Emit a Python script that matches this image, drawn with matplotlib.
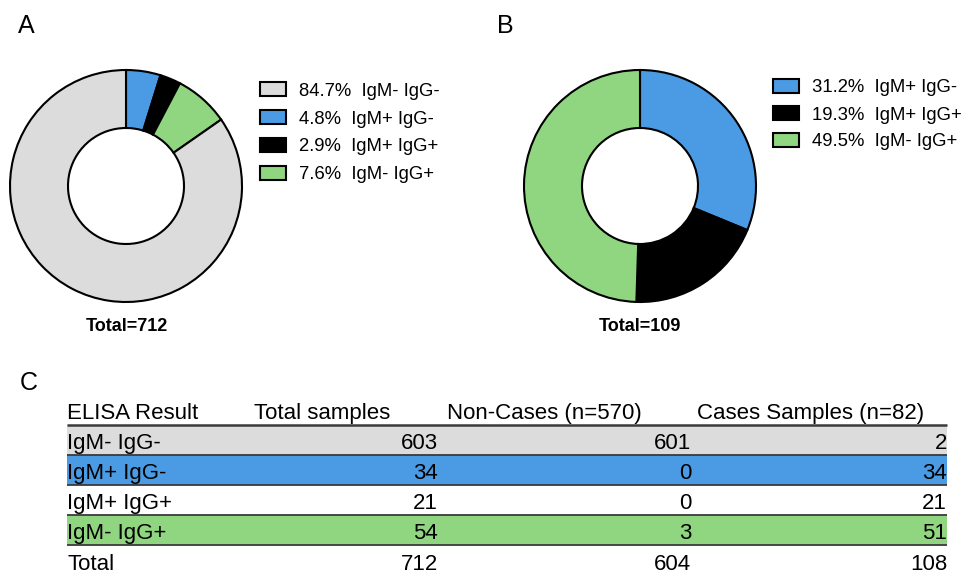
import matplotlib
matplotlib.use("Agg")
import matplotlib.pyplot as plt
from matplotlib.patches import Rectangle

plt.rcParams['font.family'] = ['Liberation Sans', 'DejaVu Sans']

# Panel A: all samples
labels_a = ["IgM- IgG-", "IgM+ IgG-", "IgM+ IgG+", "IgM- IgG+"]
pct_a = [84.7, 4.8, 2.9, 7.6]
total_a = 712

# Panel B: positive samples only
labels_b = ["IgM+ IgG-", "IgM+ IgG+", "IgM- IgG+"]
pct_b = [31.2, 19.3, 49.5]
total_b = 109

# Panel C: table
table_header = ["ELISA Result", "Total samples", "Non-Cases (n=570)", "Cases Samples (n=82)"]
row_labels = ["IgM- IgG-", "IgM+ IgG-", "IgM+ IgG+", "IgM- IgG+", "Total"]
total_samples = [603, 34, 21, 54, 712]
non_cases = [601, 0, 0, 3, 604]
cases = [2, 34, 21, 51, 108]

COLORS = {"IgM- IgG-": "#DCDCDC", "IgM+ IgG-": "#4A9BE3",
          "IgM+ IgG+": "#000000", "IgM- IgG+": "#90D580"}
ROW_COLORS = {"IgM- IgG-": "#DCDCDC", "IgM+ IgG-": "#4A9BE3",
              "IgM+ IgG+": "#FFFFFF", "IgM- IgG+": "#90D580", "Total": "#FFFFFF"}

W, H = 963, 575
fig = plt.figure(figsize=(W / 100, H / 100), dpi=100)


def fx(x):
    return x / W


def fy(y):
    return 1 - y / H


def donut(cx, cy, r, labels, pct, order):
    ax = fig.add_axes([fx(cx - r), fy(cy + r), 2 * r / W, 2 * r / H])
    vals = [pct[i] for i in order]
    cols = [COLORS[labels[i]] for i in order]
    ax.pie(vals, colors=cols, startangle=90, counterclock=False,
           wedgeprops=dict(width=0.5, edgecolor="black", linewidth=1.5, clip_on=False))
    ax.set_xlim(-1, 1)
    ax.set_ylim(-1, 1)
    ax.set_aspect("equal")
    ax.axis("off")
    return ax


def legend(x, y0, step, labels, pct):
    for i, (lab, p) in enumerate(zip(labels, pct)):
        yc = y0 + i * step
        fig.add_artist(Rectangle((fx(x), fy(yc + 7)), 26 / W, 14 / H,
                                 transform=fig.transFigure, facecolor=COLORS[lab],
                                 edgecolor="black", linewidth=1.5))
        fig.text(fx(x + 39), fy(yc + 6.5), f"{p}%  {lab}", fontsize=13.3,
                 ha="left", va="baseline")


# A
donut(126, 186, 116, labels_a, pct_a, [1, 2, 3, 0])
legend(260, 89, 28, labels_a, pct_a)
fig.text(fx(127), fy(331), f"Total={total_a}", fontsize=13, fontweight="bold",
         ha="center", va="baseline")
fig.text(fx(18), fy(33), "A", fontsize=18, ha="left", va="baseline")

# B
donut(640, 186, 116, labels_b, pct_b, [0, 1, 2])
legend(773, 86, 27, labels_b, pct_b)
fig.text(fx(640), fy(331), f"Total={total_b}", fontsize=13, fontweight="bold",
         ha="center", va="baseline")
fig.text(fx(497), fy(33), "B", fontsize=18, ha="left", va="baseline")

# C
fig.text(fx(20), fy(390), "C", fontsize=18, ha="left", va="baseline")

row_h = 30.2
top_px, bot_px = 392, 575
head_c = 409.5
axt = fig.add_axes([0, fy(bot_px), 1, (bot_px - top_px) / H])
axt.set_xlim(0, W)
axt.set_ylim((bot_px - head_c) / row_h, (top_px - head_c) / row_h)
axt.axis("off")

rows = list(range(1, len(row_labels) + 1))
axt.barh(rows, 880, left=67, height=1, color=[ROW_COLORS[r] for r in row_labels])
for i in range(len(row_labels)):
    axt.plot([67, 947], [i + 0.5, i + 0.5], color="#3a3a3a",
             linewidth=1.8 if i == 0 else 1.3, solid_capstyle="butt")

fs = 16
head_x = [67, 254, 447, 697]
for x, h in zip(head_x, table_header):
    axt.text(x, 0.32, h, fontsize=fs, ha="left", va="baseline")

num_x = [438, 691, 947]
for r, lab, a, b, c in zip(rows, row_labels, total_samples, non_cases, cases):
    axt.text(67, r + 0.3, lab, fontsize=fs, ha="left", va="baseline")
    for x, v in zip(num_x, (a, b, c)):
        axt.text(x, r + 0.3, str(v), fontsize=fs, ha="right", va="baseline")

fig.savefig("out.png", dpi=100)
